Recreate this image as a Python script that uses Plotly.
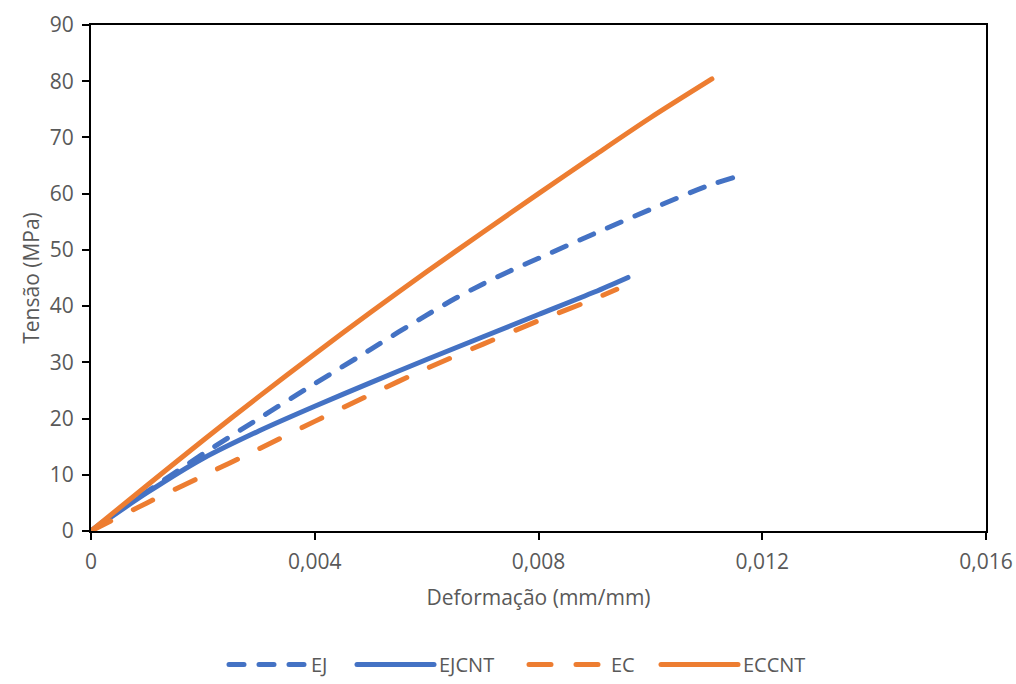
import plotly.graph_objects as go

# Data (strain mm/mm, stress MPa)
ej_x = [0, 0.0004, 0.001, 0.002, 0.003, 0.004, 0.005, 0.0055, 0.006, 0.0065, 0.007, 0.0075, 0.008, 0.009, 0.010, 0.011, 0.0117]
ej_y = [0, 3.0, 7.0, 13.7, 20.0, 26.2, 32.3, 35.4, 38.4, 41.3, 43.9, 46.3, 48.5, 52.9, 57.2, 61.3, 63.5]

ejcnt_x = [0, 0.001, 0.002, 0.003, 0.004, 0.005, 0.006, 0.007, 0.008, 0.009, 0.0096]
ejcnt_y = [0, 6.8, 12.9, 17.8, 22.2, 26.4, 30.5, 34.5, 38.5, 42.5, 45.1]

ec_x = [0, 0.001, 0.002, 0.003, 0.004, 0.005, 0.006, 0.007, 0.008, 0.009, 0.0094]
ec_y = [0, 5.0, 9.8, 14.6, 19.5, 24.3, 28.9, 33.2, 37.4, 41.3, 43.0]

eccnt_x = [0, 0.001, 0.002, 0.003, 0.004, 0.005, 0.006, 0.007, 0.008, 0.009, 0.010, 0.0111]
eccnt_y = [0, 8.1, 16.1, 23.9, 31.5, 38.9, 46.1, 53.1, 60.0, 66.8, 73.5, 80.4]

series_names = ["EJ", "EJCNT", "EC", "ECCNT"]

x_ticks = [0, 0.004, 0.008, 0.012, 0.016]
x_ticktext = ["0", "0,004", "0,008", "0,012", "0,016"]
y_ticks = [0, 10, 20, 30, 40, 50, 60, 70, 80, 90]

BLUE = "#4472C4"
ORANGE = "#ED7D31"
FONT = "Open Sans"
GRAY = "#595959"

# one legend box per series so each entry sits where the reference puts it
legend_ids = ["legend", "legend2", "legend3", "legend4"]
legend_left_px = [224, 352, 524, 656]

fig = go.Figure()
fig.add_trace(go.Scatter(x=ej_x, y=ej_y, name=series_names[0], mode="lines", legend=legend_ids[0],
                         line=dict(color=BLUE, width=5, dash="15px,15px", shape="spline", smoothing=0.8)))
fig.add_trace(go.Scatter(x=ejcnt_x, y=ejcnt_y, name=series_names[1], mode="lines", legend=legend_ids[1],
                         line=dict(color=BLUE, width=5, shape="spline", smoothing=0.8)))
fig.add_trace(go.Scatter(x=ec_x, y=ec_y, name=series_names[2], mode="lines", legend=legend_ids[2],
                         line=dict(color=ORANGE, width=5, dash="22px,25px", shape="spline", smoothing=0.8)))
fig.add_trace(go.Scatter(x=eccnt_x, y=eccnt_y, name=series_names[3], mode="lines", legend=legend_ids[3],
                         line=dict(color=ORANGE, width=5, shape="spline", smoothing=0.8)))

W, H = 1016, 684
legend_style = dict(orientation="h", xref="container", yref="container",
                    xanchor="left", y=0, yanchor="bottom",
                    font=dict(size=20, color=GRAY), itemwidth=77,
                    bgcolor="rgba(0,0,0,0)")
legends = {lid: dict(legend_style, x=px / W) for lid, px in zip(legend_ids, legend_left_px)}

fig.update_layout(
    width=W, height=H,
    margin=dict(l=91, r=30, t=25, b=153),
    paper_bgcolor="white", plot_bgcolor="white",
    font=dict(family=FONT, size=20, color=GRAY),
    separators=",.",
    showlegend=True,
    xaxis=dict(range=[0, 0.016], tickvals=x_ticks, ticktext=x_ticktext, automargin=False,
               showgrid=False, zeroline=False, showline=True, linecolor="black", linewidth=2,
               mirror=True, ticks="outside", ticklen=7, tickcolor="black", tickwidth=2,
               ticklabelstandoff=4,
               tickfont=dict(size=21, color=GRAY),
               title=dict(text="Deformação (mm/mm)", font=dict(size=21, color=GRAY), standoff=16)),
    yaxis=dict(range=[0, 90], tickvals=y_ticks, automargin=False,
               showgrid=False, zeroline=False, showline=True, linecolor="black", linewidth=2,
               mirror=True, ticks="outside", ticklen=7, tickcolor="black", tickwidth=2,
               ticklabelstandoff=4,
               tickfont=dict(size=21, color=GRAY),
               title=dict(text="Tensão (MPa)", font=dict(size=21, color=GRAY), standoff=4)),
    **legends,
)

post = (
    "document.body.style.margin='0';"
    "var s=document.createElement('style');"
    "s.textContent='path.js-line{stroke-linecap:round;}';"
    "document.head.appendChild(s);"
)
fig.write_html("out.html", post_script=post, config={"displayModeBar": False})
